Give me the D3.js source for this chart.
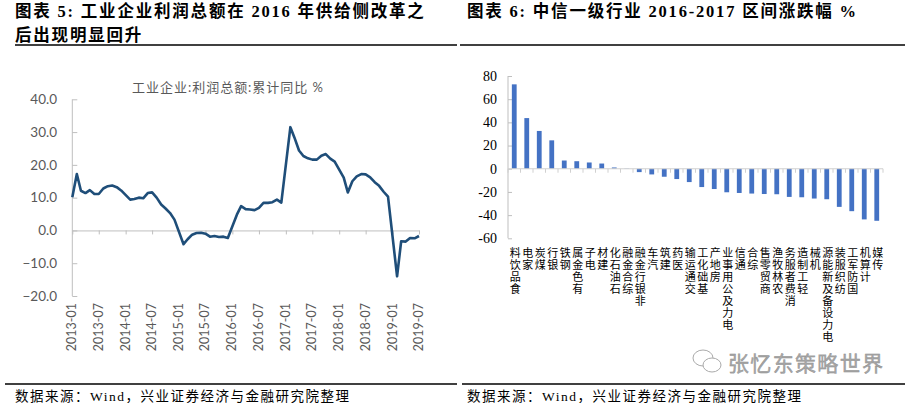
<!DOCTYPE html>
<html>
<head>
<meta charset="utf-8">
<script src="https://cdn.jsdelivr.net/npm/d3@7"></script>
<style>
  html, body { margin: 0; padding: 0; background: #fff; }
  svg { display: block; }
</style>
</head>
<body>
<svg id="chart" width="911" height="403"></svg>
<script>
// ---------- Data: left chart (工业企业:利润总额:累计同比 %) ----------
const profitMonths = [
  "2013-01","2013-02","2013-03","2013-04","2013-05","2013-06","2013-07","2013-08","2013-09","2013-10","2013-11","2013-12",
  "2014-02","2014-03","2014-04","2014-05","2014-06","2014-07","2014-08","2014-09","2014-10","2014-11","2014-12",
  "2015-02","2015-03","2015-04","2015-05","2015-06","2015-07","2015-08","2015-09","2015-10","2015-11","2015-12",
  "2016-02","2016-03","2016-04","2016-05","2016-06","2016-07","2016-08","2016-09","2016-10","2016-11","2016-12",
  "2017-02","2017-03","2017-04","2017-05","2017-06","2017-07","2017-08","2017-09","2017-10","2017-11","2017-12",
  "2018-02","2018-03","2018-04","2018-05","2018-06","2018-07","2018-08","2018-09","2018-10","2018-11","2018-12",
  "2019-02","2019-03","2019-04","2019-05","2019-06","2019-07"
];
const profitValues = [
  10.1, 17.2, 12.1, 11.4, 12.3, 11.1, 11.1, 12.8, 13.5, 13.7, 13.2, 12.2,
  9.4, 9.6, 10.0, 9.8, 11.4, 11.6, 10.0, 7.9, 6.7, 5.3, 3.3,
  -4.2, -2.7, -1.3, -0.8, -0.7, -1.0, -1.9, -1.7, -2.0, -1.9, -2.3,
  4.8, 7.4, 6.5, 6.4, 6.2, 6.9, 8.4, 8.4, 8.6, 9.4, 8.5,
  31.5, 28.3, 24.4, 22.7, 22.0, 21.6, 21.6, 22.8, 23.3, 21.9, 21.0,
  16.1, 11.6, 15.0, 16.5, 17.2, 17.1, 16.2, 14.7, 13.6, 11.8, 10.3,
  -14.0, -3.3, -3.4, -2.3, -2.4, -1.7
];
const leftTickLabels = ["2013-01","2013-07","2014-01","2014-07","2015-01","2015-07","2016-01","2016-07","2017-01","2017-07","2018-01","2018-07","2019-01","2019-07"];
const leftYTicks = [-20, -10, 0, 10, 20, 30, 40];

// ---------- Data: right chart (中信一级行业 2016-2017 区间涨跌幅 %) ----------
const industries = ["食品饮料","家电","煤炭","银行","钢铁","有色金属","电子","建材","石油石化","综合金融",
  "非银行金融","汽车","建筑","医药","交通运输","基础化工","房地产","电力及公用事业","通信","综合",
  "商贸零售","农林牧渔","消费者服务","轻工制造","机械","电力设备及新能源","纺织服装","国防军工","计算机","传媒"];
const changeValues = [72.8, 43.7, 32.6, 24.5, 7.1, 6.5, 5.4, 4.5, 1.1, 0.2,
  -2.9, -4.9, -6.9, -8.9, -11.5, -15.8, -17.5, -20.3, -20.9, -21.4,
  -21.8, -22.0, -24.3, -24.6, -25.7, -26.3, -32.9, -36.6, -43.7, -44.9];
const rightYTicks = [-60, -40, -20, 0, 20, 40, 60, 80];

// ---------- Drawing ----------
const svg = d3.select("#chart");
const serif = "'Liberation Serif','Noto Sans CJK SC',serif";
const cjk = "'Liberation Serif','Noto Sans CJK SC',sans-serif";
const sans = "Lato,'Noto Sans CJK SC',sans-serif";
const axisGray = "#BFBFBF";
const textGray = "#595959";

svg.append("rect").attr("width", 911).attr("height", 403).attr("fill", "#fff");

// Titles
function title(x, y, txt, size) {
  svg.append("text").attr("x", x).attr("y", y).text(txt)
    .attr("font-family", cjk).attr("font-weight", "bold").attr("font-size", size)
    .attr("fill", "#000").attr("letter-spacing", 1.8);
}
title(15, 17, "图表 5:  工业企业利润总额在 2016 年供给侧改革之", 16.5);
title(15, 41, "后出现明显回升", 16.5);
title(467, 17, "图表 6:  中信一级行业 2016-2017 区间涨跌幅  %", 16.5);

// Rules
[[15, 457, 45], [460, 905, 45], [5, 457, 384], [462, 905, 384]].forEach(r => {
  svg.append("line").attr("x1", r[0]).attr("x2", r[1]).attr("y1", r[2]).attr("y2", r[2])
    .attr("stroke", "#000").attr("stroke-width", 1.3);
});

// Footers
[15, 467].forEach(x => {
  svg.append("text").attr("x", x).attr("y", 401)
    .text("数据来源：Wind，兴业证券经济与金融研究院整理")
    .attr("font-family", cjk).attr("font-size", 13.5).attr("fill", "#000")
    .attr("letter-spacing", 1.5);
});

// ---------- Left chart ----------
const parse = d3.timeParse("%Y-%m");
const xL = d3.scaleTime().domain([parse("2013-01"), parse("2019-07")]).range([72.3, 419]);
const yL = d3.scaleLinear().domain([-20, 40]).range([296, 99.3]);

svg.append("text").attr("x", 227.5).attr("y", 92).attr("text-anchor", "middle")
  .text("工业企业:利润总额:累计同比 %")
  .attr("font-family", sans).attr("font-size", 13).attr("fill", textGray)
  .attr("textLength", 191).attr("lengthAdjust", "spacing");

// Y axis
const yAxisL = svg.append("g").attr("transform", `translate(${xL.range()[0]},0)`)
  .call(d3.axisRight(yL).tickValues(leftYTicks).tickSize(5).tickFormat(""));
yAxisL.select(".domain").attr("stroke", axisGray).attr("d", `M0,${yL(-20)}V${yL(40)}`);
yAxisL.selectAll(".tick line").attr("stroke", axisGray);
svg.append("g").selectAll("text").data(leftYTicks).join("text")
  .attr("x", 57).attr("y", d => yL(d)).attr("dy", "0.35em").attr("text-anchor", "end")
  .text(d => d3.format(".1f")(d))
  .attr("font-family", sans).attr("font-size", 13.5).attr("fill", textGray);

// X axis at zero
const tickDates = leftTickLabels.map(parse);
const xAxisL = svg.append("g").attr("transform", `translate(0,${yL(0)})`)
  .call(d3.axisBottom(xL).tickValues(tickDates).tickSize(4).tickSizeOuter(0).tickFormat(""));
xAxisL.select(".domain").attr("stroke", axisGray);
xAxisL.selectAll(".tick line").attr("stroke", axisGray);
svg.append("g").selectAll("text").data(leftTickLabels).join("text")
  .attr("transform", d => `translate(${xL(parse(d)) + 4},303) rotate(-90)`)
  .attr("text-anchor", "end").text(d => d)
  .attr("font-family", sans).attr("font-size", 12.5).attr("fill", textGray);

// Line
const lineData = profitMonths.map((m, i) => ({ d: parse(m), v: profitValues[i] }));
svg.append("path").datum(lineData)
  .attr("d", d3.line().x(p => xL(p.d)).y(p => yL(p.v)))
  .attr("fill", "none").attr("stroke", "#1F4E79").attr("stroke-width", 2.6)
  .attr("stroke-linejoin", "round");

// ---------- Right chart ----------
const xR = d3.scaleBand().domain(industries).range([508, 883]);
const yR = d3.scaleLinear().domain([-60, 80]).range([238.3, 76]);

const yAxisR = svg.append("g").attr("transform", `translate(${xR.range()[0]},0)`)
  .call(d3.axisRight(yR).tickValues(rightYTicks).tickSize(4).tickFormat(""));
yAxisR.select(".domain").attr("stroke", axisGray).attr("d", `M0,${yR(-60)}V${yR(80)}`);
yAxisR.selectAll(".tick line").attr("stroke", axisGray);
svg.append("g").selectAll("text").data(rightYTicks).join("text")
  .attr("x", 497).attr("y", d => yR(d)).attr("dy", "0.35em").attr("text-anchor", "end")
  .text(d => d)
  .attr("font-family", serif).attr("font-size", 14).attr("fill", "#000");

// Bars
const barW = 4.8;
svg.append("g").selectAll("rect").data(industries).join("rect")
  .attr("x", d => xR(d) + xR.bandwidth() / 2 - barW / 2)
  .attr("width", barW)
  .attr("y", (d, i) => yR(Math.max(0, changeValues[i])))
  .attr("height", (d, i) => Math.abs(yR(changeValues[i]) - yR(0)))
  .attr("fill", "#4472C4");

// Zero axis with ticks between categories
svg.append("line").attr("x1", xR.range()[0]).attr("x2", xR.range()[1])
  .attr("y1", yR(0)).attr("y2", yR(0)).attr("stroke", "#D0D0D0").attr("stroke-width", 1.2);
svg.append("g").selectAll("line").data(d3.range(industries.length + 1)).join("line")
  .attr("x1", i => xR.range()[0] + i * xR.step()).attr("x2", i => xR.range()[0] + i * xR.step())
  .attr("y1", yR(0)).attr("y2", yR(0) + 4).attr("stroke", "#D0D0D0");

// Category labels: text rotated -90 (reads bottom-to-top) with each glyph kept upright
const labSize = 11;
svg.append("g").selectAll("text").data(industries).join("text")
  .attr("transform", d => `translate(${xR(d) + xR.bandwidth() / 2 + 1 - labSize / 2},245) rotate(-90)`)
  .attr("rotate", 90)
  .attr("text-anchor", "end")
  .attr("letter-spacing", 1)
  .text(d => d)
  .attr("font-family", "'Noto Sans CJK SC',sans-serif").attr("font-size", labSize).attr("fill", "#000");

// Watermark
const wm = svg.append("g").attr("fill", "none").attr("stroke", "#AAAAAA").attr("stroke-width", 1);
wm.append("ellipse").attr("cx", 703).attr("cy", 358).attr("rx", 10).attr("ry", 8);
wm.append("ellipse").attr("cx", 712).attr("cy", 365).attr("rx", 9).attr("ry", 7).attr("fill", "#fff");
svg.append("text").attr("x", 728).attr("y", 371).text("张忆东策略世界")
  .attr("font-family", "'Noto Sans CJK SC',sans-serif").attr("font-size", 21)
  .attr("fill", "#A8A8A8").attr("stroke", "#8A8A8A").attr("stroke-width", 0.4)
  .attr("textLength", 155).attr("lengthAdjust", "spacing");
</script>
</body>
</html>
